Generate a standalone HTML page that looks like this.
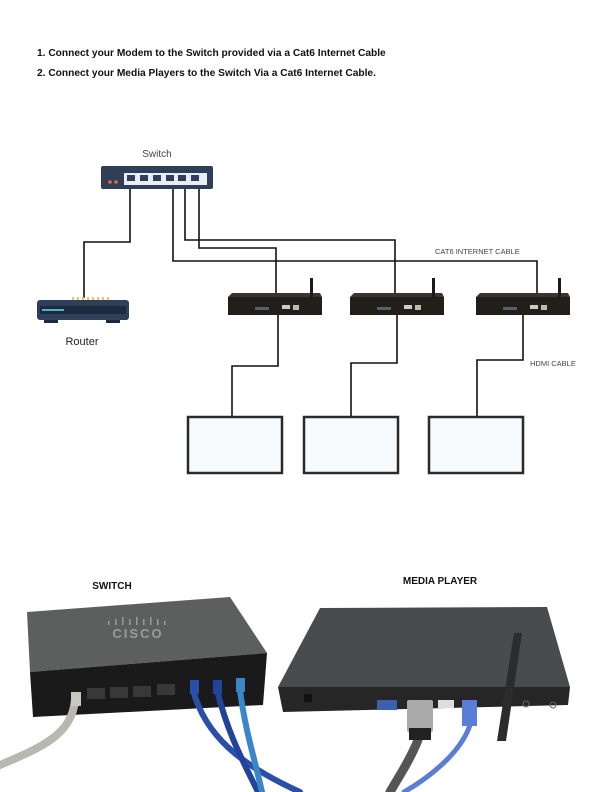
<!DOCTYPE html>
<html><head><meta charset="utf-8"><style>
html,body{margin:0;padding:0;background:#fff;}
svg{display:block;}
text{font-family:"Liberation Sans",sans-serif;}
</style></head><body>
<svg width="612" height="792" viewBox="0 0 612 792" xmlns="http://www.w3.org/2000/svg">
<rect width="612" height="792" fill="#fff"/>
<text x="37" y="56" font-size="10.2" font-weight="bold" fill="#111">1. Connect your Modem to the Switch provided via a Cat6 Internet Cable</text>
<text x="37" y="76" font-size="10.2" font-weight="bold" fill="#111">2. Connect your Media Players to the Switch Via a Cat6 Internet Cable.</text>

<g fill="none" stroke="#111" stroke-width="1.6">
<polyline points="130,189 130,242 84,242 84,298"/>
<polyline points="173,185 173,261 537,261 537,293"/>
<polyline points="185,185 185,240 395,240 395,293"/>
<polyline points="199,185 199,248 276,248 276,293"/>
<polyline points="278,315 278,366 232,366 232,416"/>
<polyline points="397,315 397,363 351,363 351,416"/>
<polyline points="523,315 523,360 477,360 477,416"/>
</g>

<text x="157" y="157" font-size="10" fill="#444" text-anchor="middle">Switch</text>
<rect x="101" y="166" width="112" height="23" rx="2" fill="#2f3e59"/>
<rect x="124" y="173" width="83" height="12" fill="#e9eef5"/>
<g fill="#2f3e59">
<rect x="127" y="175" width="8" height="6"/><rect x="140" y="175" width="8" height="6"/><rect x="153" y="175" width="8" height="6"/>
<rect x="166" y="175" width="8" height="6"/><rect x="178" y="175" width="8" height="6"/><rect x="191" y="175" width="8" height="6"/>
</g>
<circle cx="110" cy="182" r="1.8" fill="#f06a2a"/><circle cx="116" cy="182" r="1.8" fill="#f06a2a"/>

<rect x="37" y="300" width="92" height="20" rx="3" fill="#2f3e59"/>
<rect x="40" y="306" width="86" height="8" fill="#1c2a3e"/>
<rect x="42" y="309" width="22" height="2" fill="#5ab0c8"/>
<g fill="#f3c35a"><rect x="72" y="297" width="2" height="3"/><rect x="77" y="297" width="2" height="3"/><rect x="82" y="297" width="2" height="3"/><rect x="87" y="297" width="2" height="3"/><rect x="92" y="297" width="2" height="3"/><rect x="97" y="297" width="2" height="3"/><rect x="102" y="297" width="2" height="3"/><rect x="107" y="297" width="2" height="3"/></g>
<rect x="44" y="320" width="14" height="3" fill="#1c2a3e"/><rect x="106" y="320" width="14" height="3" fill="#1c2a3e"/>
<text x="82" y="345" font-size="11" fill="#222" text-anchor="middle">Router</text>

<g id="mp">
<polygon points="232,293 320,293 322,297 228,297" fill="#3a3530"/>
<rect x="228" y="297" width="94" height="18" fill="#221e1a"/>
<rect x="310" y="278" width="3" height="19" fill="#1a1a1a"/>
<rect x="255" y="307" width="14" height="3" fill="#55606e"/>
<rect x="282" y="305" width="8" height="4" fill="#ccc"/>
<rect x="293" y="305" width="6" height="5" fill="#bba"/>
</g>
<use href="#mp" x="122"/>
<use href="#mp" x="248"/>

<g fill="#f7fbfe" stroke="#2a2a2a" stroke-width="2.5">
<rect x="188" y="417" width="94" height="56"/>
<rect x="304" y="417" width="94" height="56"/>
<rect x="429" y="417" width="94" height="56"/>
</g>

<text x="435" y="254" font-size="7.5" fill="#444">CAT6 INTERNET CABLE</text>
<text x="530" y="366" font-size="7.5" fill="#444">HDMI CABLE</text>

<text x="112" y="589" font-size="10" font-weight="bold" fill="#111" text-anchor="middle">SWITCH</text>
<text x="440" y="584" font-size="10" font-weight="bold" fill="#111" text-anchor="middle">MEDIA PLAYER</text>

<polygon points="27,612 230,597 267,653 30,672" fill="#5d5f5e"/>
<polygon points="30,672 267,653 263,705 33,717" fill="#1a1a1a"/>
<text x="138" y="638" font-size="13" font-weight="bold" fill="#9a9c9c" text-anchor="middle" letter-spacing="2">CISCO</text>
<g fill="#9a9c9c"><rect x="108" y="621" width="1.5" height="4"/><rect x="115" y="619" width="1.5" height="6"/><rect x="122" y="617" width="1.5" height="8"/><rect x="129" y="619" width="1.5" height="6"/><rect x="136" y="617" width="1.5" height="8"/><rect x="143" y="619" width="1.5" height="6"/><rect x="150" y="617" width="1.5" height="8"/><rect x="157" y="619" width="1.5" height="6"/><rect x="164" y="621" width="1.5" height="4"/></g>
<g fill="#383838"><rect x="87" y="688" width="18" height="11"/><rect x="110" y="687" width="18" height="11"/><rect x="133" y="686" width="18" height="11"/><rect x="157" y="684" width="18" height="11"/></g>

<polygon points="320,608 547,607 570,687 278,687" fill="#4a4b4d"/>
<polygon points="278,687 570,687 568,705 283,712" fill="#262626"/>
<rect x="304" y="694" width="8" height="8" fill="#111"/>
<rect x="377" y="700" width="20" height="10" fill="#3d5fb0"/>
<rect x="438" y="700" width="16" height="8" fill="#ddd"/>
<circle cx="526" cy="704" r="3" fill="none" stroke="#666"/>
<circle cx="553" cy="705" r="3" fill="none" stroke="#666"/>

<g fill="none" stroke-linecap="round">
<path d="M75,700 C72,735 40,748 0,765" stroke="#b8b8b0" stroke-width="8"/>
<path d="M193,690 C205,735 240,765 300,792" stroke="#2a4fa8" stroke-width="6"/>
<path d="M217,690 C228,735 245,765 258,792" stroke="#1f449a" stroke-width="6"/>
<path d="M240,690 C245,730 255,760 262,792" stroke="#3a86c8" stroke-width="6"/>
<path d="M418,740 C410,760 398,778 390,792" stroke="#555" stroke-width="9"/>
<path d="M470,725 C460,755 425,780 404,792" stroke="#5a7ed8" stroke-width="5"/>
</g>
<rect x="71" y="692" width="10" height="14" fill="#c8c8c0"/>
<rect x="190" y="680" width="9" height="14" fill="#2a4fa8"/>
<rect x="213" y="680" width="9" height="14" fill="#1f449a"/>
<rect x="236" y="678" width="9" height="14" fill="#3a86c8"/>
<rect x="407" y="700" width="26" height="32" rx="2" fill="#aaa"/>
<rect x="409" y="728" width="22" height="12" fill="#222"/>
<rect x="462" y="700" width="15" height="26" fill="#5a7ed8"/>
<polygon points="514,633 522,633 506,741 497,741" fill="#2c2c2c"/>
</svg>
</body></html>
